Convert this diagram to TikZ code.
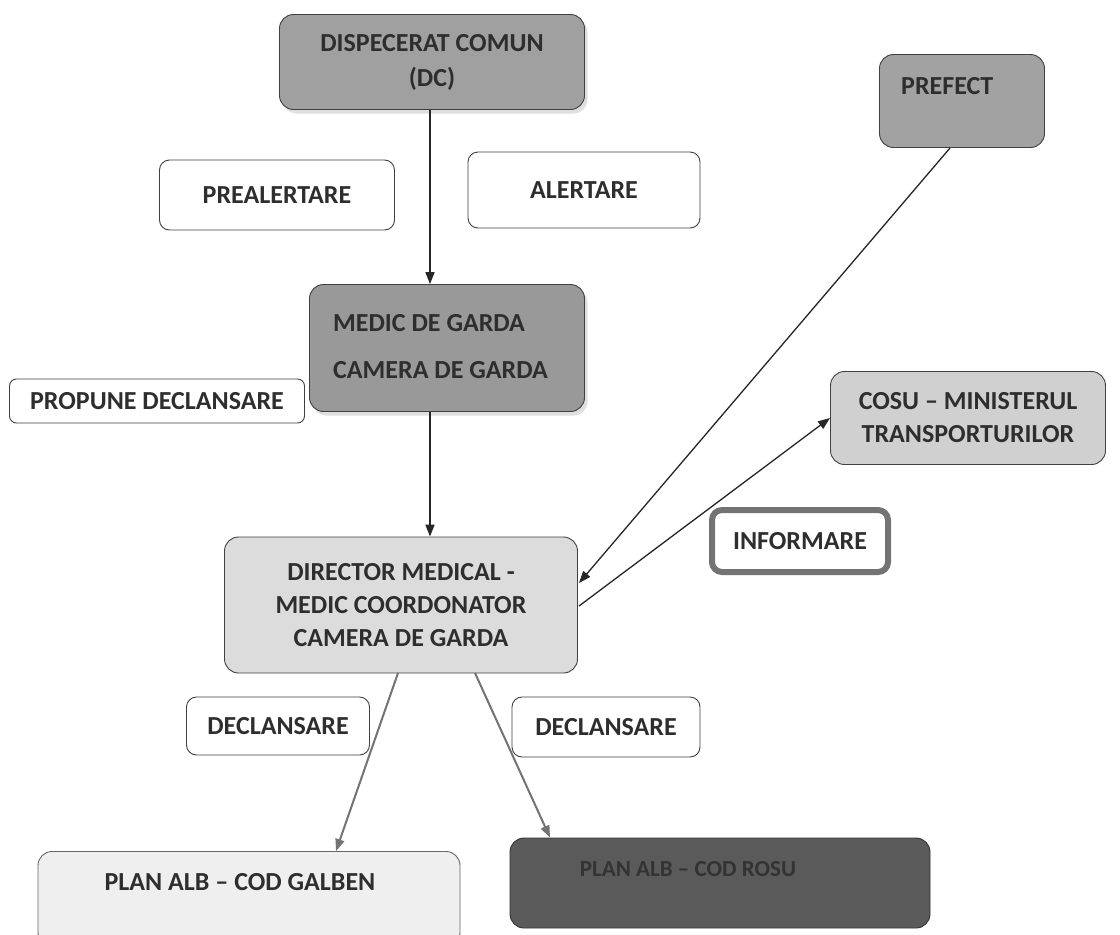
\documentclass[tikz,border=0pt]{standalone}
\usepackage{fontspec}
\setmainfont{Carlito}
\usetikzlibrary{shadows,arrows.meta}
\definecolor{txt}{HTML}{2E2E2E}
\definecolor{dcfill}{HTML}{A0A0A0}
\definecolor{medfill}{HTML}{999999}
\definecolor{prefill}{HTML}{A2A2A2}
\definecolor{cosufill}{HTML}{D0D0D0}
\definecolor{dirfill}{HTML}{DCDCDC}
\definecolor{galfill}{HTML}{EFEFEF}
\definecolor{rosfill}{HTML}{5A5A5A}
\tikzset{
  box/.style={draw=black!75, line width=0.9pt, rounded corners=14pt, inner sep=0pt,
    font=\fontsize{26}{33}\selectfont\bfseries, text=txt, align=center},
  labelbox/.style={box, fill=white, rounded corners=10pt},
  shad/.style={drop shadow={opacity=0.25, shadow xshift=3pt, shadow yshift=-4pt}},
  plain/.style={font=\fontsize{26}{33}\selectfont\bfseries, text=txt, inner sep=0pt},
  arr/.style={-{Triangle[length=12pt,width=9pt]}, line width=1.6pt, draw=black!85},
  garr/.style={-{Triangle[length=12pt,width=9pt]}, line width=2pt, draw=black!55},
}
\begin{document}
\begin{tikzpicture}[x=1pt,y=-1pt]
\useasboundingbox[fill=white] (0,0) rectangle (1120,935);

% main boxes
\node[box, shad, fill=dcfill, minimum width=305, minimum height=95] (dc) at (432,62)
  {DISPECERAT COMUN\\[2pt](DC)};
\node[labelbox, minimum width=235, minimum height=70] (prealert) at (277,195) {PREALERTARE};
\node[labelbox, minimum width=232, minimum height=76] (alert) at (584,190) {ALERTARE};
\node[box, fill=prefill, minimum width=165, minimum height=93] (prefect) at (962,101) {};
\node[plain, anchor=west] (prefecttxt) at (901,86) {PREFECT};

\node[box, shad, fill=medfill, minimum width=275, minimum height=127] (medic) at (447,348) {};
\node[plain, anchor=west] (medic1) at (333,323) {MEDIC DE GARDA};
\node[plain, anchor=west] (medic2) at (333,370) {CAMERA DE GARDA};

\node[labelbox, rounded corners=7pt, minimum width=295, minimum height=44] (propune) at (157,401) {PROPUNE DECLANSARE};
\node[box, fill=cosufill, minimum width=275, minimum height=93] (cosu) at (968,418)
  {COSU -- MINISTERUL\\TRANSPORTURILOR};
\node[box, fill=white, draw=black!55, line width=6pt, rounded corners=10pt,
  minimum width=176, minimum height=62] (informare) at (800,541) {INFORMARE};

\node[box, fill=dirfill, minimum width=353, minimum height=136] (director) at (401,605)
  {DIRECTOR MEDICAL -\\MEDIC COORDONATOR\\CAMERA DE GARDA};

\node[labelbox, minimum width=183, minimum height=58] (decl1) at (278,726) {DECLANSARE};
\node[labelbox, minimum width=188, minimum height=60] (decl2) at (606,727) {DECLANSARE};

\node[box, fill=galfill, draw=black!60, minimum width=422, minimum height=95] (galben) at (249,899) {};
\node[plain] (galbentxt) at (240,882) {PLAN ALB -- COD GALBEN};
\node[box, fill=rosfill, draw=black!80, minimum width=420, minimum height=90] (rosu) at (720,883) {};
\node[plain, text=black!80, font=\fontsize{23}{28}\selectfont\bfseries] (rosutxt) at (688,869) {PLAN ALB -- COD ROSU};

% connectors
\draw[arr] (dc.south -| 430,0) -- (medic.north -| 430,0);
\draw[arr] (medic.south -| 430,0) -- (director.north -| 430,0);
\coordinate (prefout) at (950,148);
\coordinate (dirin) at (579,583);
\coordinate (dirout) at (579,606);
\coordinate (cosuin) at (830,418);
\draw[arr, line width=1.3pt] (prefout) -- (dirin);
\draw[arr, line width=1.3pt] (dirout) -- (cosuin);
\coordinate (dg) at (398,673);
\coordinate (dr) at (475,673);
\draw[garr] (dg) -- (galben.north -| 336,0);
\draw[garr] (dr) -- (rosu.north -| 550,0);
\end{tikzpicture}
\end{document}
